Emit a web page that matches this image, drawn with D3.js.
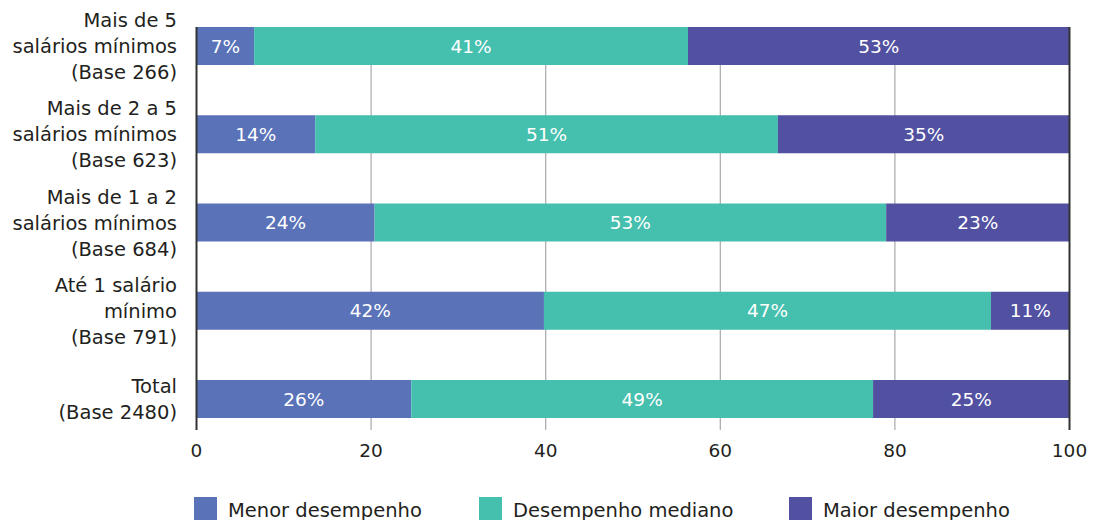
<!DOCTYPE html>
<html>
<head>
<meta charset="utf-8">
<script src="https://cdn.jsdelivr.net/npm/d3@7"></script>
<style>
  body { margin: 0; background: #fff; }
  text { font-family: "DejaVu Sans", sans-serif; }
</style>
</head>
<body>
<div id="chart"></div>
<script>
// categories, top to bottom (each line of the label is an entry)
var categories = [
    ["Mais de 5", "salários mínimos", "(Base 266)"],
    ["Mais de 2 a 5", "salários mínimos", "(Base 623)"],
    ["Mais de 1 a 2", "salários mínimos", "(Base 684)"],
    ["Até 1 salário", "mínimo", "(Base 791)"],
    ["Total", "(Base 2480)"]
];
var seriesNames = ["Menor desempenho", "Desempenho mediano", "Maior desempenho"];

// segment lengths as drawn in the picture
var menor   = [6.6, 13.6, 20.4, 39.8, 24.6];
var mediano = [49.7, 53.0, 58.6, 51.2, 52.9];
var maior   = [43.7, 33.4, 21.0, 9.0, 22.5];

// printed labels
var menorLabels   = ["7%", "14%", "24%", "42%", "26%"];
var medianoLabels = ["41%", "51%", "53%", "47%", "49%"];
var maiorLabels   = ["53%", "35%", "23%", "11%", "25%"];

var xTicks = [0, 20, 40, 60, 80, 100];
var colors = ["#5a72b8", "#45bfae", "#5150a1"];

var width = 1093, height = 520;
var margin = {top: 27, left: 196.5, right: 23.5, bottom: 102};

var svg = d3.select("#chart").append("svg")
    .attr("width", width)
    .attr("height", height);

var x = d3.scaleLinear().domain([0, 100]).range([margin.left, width - margin.right]);

// bars 38px tall, 88.25px apart
var y = d3.scaleBand()
    .domain(d3.range(categories.length))
    .range([margin.top, 418])
    .paddingInner(50.25 / 88.25)
    .paddingOuter(0)
    .align(0);

var axisBottom = 430;

// gridlines
svg.append("g").selectAll("line")
    .data(xTicks.slice(1, -1))
    .join("line")
    .attr("x1", function(d) { return x(d); })
    .attr("x2", function(d) { return x(d); })
    .attr("y1", margin.top)
    .attr("y2", axisBottom)
    .attr("stroke", "#a9a9ad")
    .attr("stroke-width", 1.2);

// stacked data
var rows = categories.map(function(c, i) {
    return {
        i: i,
        parts: [
            {v: menor[i], label: menorLabels[i], s: 0},
            {v: mediano[i], label: medianoLabels[i], s: 1},
            {v: maior[i], label: maiorLabels[i], s: 2}
        ]
    };
});
rows.forEach(function(r) {
    var acc = 0;
    r.parts.forEach(function(p) { p.x0 = acc; acc += p.v; p.x1 = acc; p.i = r.i; });
});

var segs = [];
rows.forEach(function(r) { segs = segs.concat(r.parts); });

svg.append("g").selectAll("rect")
    .data(segs)
    .join("rect")
    .attr("x", function(d) { return x(d.x0); })
    .attr("width", function(d) { return x(d.x1) - x(d.x0); })
    .attr("y", function(d) { return y(d.i); })
    .attr("height", y.bandwidth())
    .attr("fill", function(d) { return colors[d.s]; });

svg.append("g").selectAll("text")
    .data(segs)
    .join("text")
    .attr("x", function(d) { return (x(d.x0) + x(d.x1)) / 2; })
    .attr("y", function(d) { return y(d.i) + y.bandwidth() / 2; })
    .attr("dy", "0.36em")
    .attr("text-anchor", "middle")
    .attr("fill", "#fff")
    .style("font-size", "18.5px")
    .text(function(d) { return d.label; });

// axis lines at 0 and 100
svg.append("g").selectAll("line")
    .data([0, 100])
    .join("line")
    .attr("x1", function(d) { return x(d); })
    .attr("x2", function(d) { return x(d); })
    .attr("y1", margin.top)
    .attr("y2", axisBottom)
    .attr("stroke", "#333")
    .attr("stroke-width", 2);

// x tick labels
svg.append("g").selectAll("text")
    .data(xTicks)
    .join("text")
    .attr("x", function(d) { return x(d); })
    .attr("y", 450)
    .attr("dy", "0.36em")
    .attr("text-anchor", "middle")
    .attr("fill", "#231f20")
    .style("font-size", "18.5px")
    .text(function(d) { return d; });

// category labels
var lineH = 26;
var catG = svg.append("g").selectAll("text")
    .data(categories)
    .join("text")
    .attr("text-anchor", "end")
    .attr("fill", "#231f20")
    .style("font-size", "19.5px")
    .attr("y", function(d, i) { return y(i) + y.bandwidth() / 2 - (d.length - 1) * lineH / 2; });

catG.selectAll("tspan")
    .data(function(d) { return d; })
    .join("tspan")
    .attr("x", 177)
    .attr("dy", function(d, j) { return j === 0 ? "0.36em" : lineH; })
    .text(function(d) { return d; });

// legend
var legendX = [194, 479, 789];
var legend = svg.append("g").selectAll("g")
    .data(seriesNames)
    .join("g")
    .attr("transform", function(d, i) { return "translate(" + legendX[i] + ",497)"; });

legend.append("rect")
    .attr("width", 23)
    .attr("height", 23)
    .attr("fill", function(d, i) { return colors[i]; });

legend.append("text")
    .attr("x", 34)
    .attr("y", 13)
    .attr("dy", "0.36em")
    .attr("fill", "#231f20")
    .style("font-size", "19.5px")
    .text(function(d) { return d; });
</script>
</body>
</html>
